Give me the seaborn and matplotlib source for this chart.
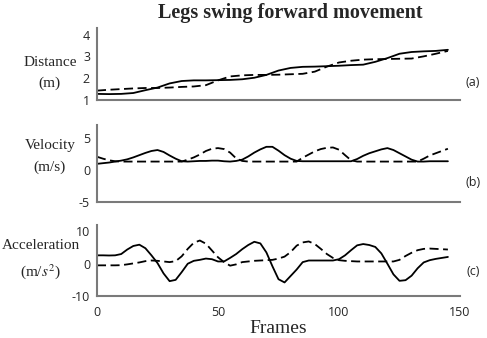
import numpy as np
import pandas as pd
import matplotlib
matplotlib.use("Agg")
import matplotlib.pyplot as plt
import seaborn as sns

##### DATA #####
## distance is smooth, sampled every 5 frames
frames_a = list(range(0, 150, 5))
dist_solid = [1.28, 1.27, 1.28, 1.32, 1.45, 1.57, 1.76, 1.87, 1.90, 1.90,
              1.91, 1.92, 1.95, 2.02, 2.15, 2.35, 2.47, 2.52, 2.53, 2.55,
              2.57, 2.60, 2.62, 2.75, 2.92, 3.12, 3.20, 3.23, 3.25, 3.30]
dist_dash = [1.43, 1.47, 1.50, 1.53, 1.55, 1.55, 1.57, 1.60, 1.62, 1.68,
             1.90, 2.08, 2.13, 2.15, 2.15, 2.16, 2.18, 2.20, 2.30, 2.53,
             2.72, 2.80, 2.85, 2.87, 2.88, 2.89, 2.90, 3.00, 3.12, 3.25]

## velocity / acceleration sampled every 2.5 frames
frames_b = [i * 2.5 for i in range(59)]
vel_solid = [0.95, 1.05, 1.15, 1.3, 1.45, 1.65, 1.95, 2.3, 2.65, 2.95,
             3.1, 2.8, 2.25, 1.75, 1.35, 1.3, 1.35, 1.4, 1.4, 1.45,
             1.45, 1.35, 1.3, 1.4, 1.6, 2.1, 2.7, 3.2, 3.6, 3.6,
             3.0, 2.3, 1.75, 1.4, 1.35, 1.35, 1.35, 1.35, 1.35, 1.35,
             1.35, 1.35, 1.35, 1.7, 2.2, 2.6, 2.9, 3.2, 3.4, 3.1,
             2.6, 2.1, 1.6, 1.3, 1.3, 1.35, 1.35, 1.35, 1.35]
vel_dash = [2.05, 1.75, 1.5, 1.35, 1.3, 1.3, 1.3, 1.3, 1.3, 1.3,
            1.3, 1.3, 1.3, 1.3, 1.3, 1.6, 1.95, 2.4, 2.95, 3.3,
            3.4, 3.25, 2.7, 1.8, 1.4, 1.3, 1.3, 1.3, 1.3, 1.3,
            1.3, 1.3, 1.3, 1.3, 1.9, 2.4, 2.9, 3.25, 3.45, 3.5,
            3.15, 2.3, 1.5, 1.3, 1.3, 1.3, 1.3, 1.3, 1.3, 1.3,
            1.3, 1.3, 1.3, 1.3, 1.75, 2.25, 2.6, 2.95, 3.3]

acc_solid = [2.6, 2.6, 2.55, 2.6, 3.0, 4.4, 5.5, 5.9, 4.8, 2.6,
             0.2, -3.0, -5.4, -5.0, -2.6, 0.0, 0.9, 1.2, 1.6, 1.4,
             0.7, 0.7, 1.8, 3.0, 4.5, 5.8, 6.8, 6.3, 3.5, -0.8,
             -4.8, -5.8, -3.8, -1.8, 0.5, 1.0, 1.0, 1.0, 1.0, 1.0,
             1.4, 2.6, 4.2, 5.7, 6.1, 5.8, 5.2, 3.2, 0.0, -3.3,
             -5.3, -5.1, -3.7, -1.4, 0.4, 1.1, 1.5, 1.8, 2.1]
acc_dash = [-0.5, -0.5, -0.5, -0.5, -0.45, -0.2, 0.1, 0.4, 0.8, 1.0,
            0.9, 0.7, 0.5, 0.8, 2.3, 4.6, 6.5, 7.2, 6.2, 4.1,
            2.0, 0.5, -0.6, -0.2, 0.5, 0.7, 0.9, 1.0, 1.1, 1.2,
            1.6, 2.2, 3.6, 5.6, 6.6, 6.9, 6.1, 4.6, 3.0, 1.8,
            1.1, 0.9, 0.8, 0.7, 0.7, 0.7, 0.7, 0.7, 0.7, 0.7,
            1.2, 2.4, 3.4, 4.2, 4.6, 4.7, 4.6, 4.5, 4.4]

x_ticks = [0, 50, 100, 150]

##### PLOT #####
sns.set_style("white")
plt.rcParams['font.family'] = ['Open Sans', 'DejaVu Sans']
plt.rcParams['mathtext.fontset'] = 'stix'
plt.rcParams['axes.unicode_minus'] = False

fig = plt.figure(figsize=(4.87, 3.38), dpi=100)

W, H = 487, 338
def box(l, t, r, b):
    return [l / W, 1 - b / H, (r - l) / W, (b - t) / H]

panels = [
    dict(pos=box(97, 28, 460, 100), x=frames_a, s=dist_solid, d=dist_dash, ylim=(1, 4.3),
         yticks=[1, 2, 3, 4], ylabel="Distance\n(m)", lab=(-0.13, 0.37), tag="(a)", tagy=0.25),
    dict(pos=box(97, 125, 460, 202), x=frames_b, s=vel_solid, d=vel_dash, ylim=(-5, 7),
         yticks=[-5, 0, 5], ylabel="Velocity\n(m/s)", lab=(-0.13, 0.59), tag="(b)", tagy=0.25),
    dict(pos=box(97, 225, 460, 296), x=frames_b, s=acc_solid, d=acc_dash, ylim=(-10, 12),
         yticks=[-10, 0, 10], ylabel="Acceleration\n(m/$s^2$)", lab=(-0.155, 0.51), tag="(c)", tagy=0.34),
]

for i, p in enumerate(panels):
    ax = fig.add_axes(p['pos'])
    df = pd.DataFrame({'frame': p['x'], 'solid': p['s'], 'dash': p['d']})
    sns.lineplot(x='frame', y='solid', data=df, ax=ax, color='black', lw=1.3)
    sns.lineplot(x='frame', y='dash', data=df, ax=ax, color='black', lw=1.3,
                 linestyle=(0, (5, 2.5)))
    ax.set_xlim(0, 150)
    ax.set_ylim(*p['ylim'])
    ax.set_yticks(p['yticks'])
    ax.tick_params(length=0, labelsize=9, pad=5)
    for side in ['top', 'right']:
        ax.spines[side].set_visible(False)
    for side in ['left', 'bottom']:
        ax.spines[side].set_color('#7a7a7a')
        ax.spines[side].set_linewidth(1.5)
    ax.set_ylabel(p['ylabel'], rotation=0, ha='center', va='center',
                  family='Liberation Serif', fontsize=11, linespacing=1.75)
    ax.yaxis.set_label_coords(*p['lab'])
    ax.text(1.036, p['tagy'], p['tag'], transform=ax.transAxes, ha='center',
            va='center', fontsize=9)
    if i < 2:
        ax.set_xticks([])
        ax.set_xlabel("")
    else:
        ax.set_xticks(x_ticks)
        ax.tick_params(axis='x', pad=7)
        ax.set_xlabel("Frames", family='Liberation Serif', fontsize=14, labelpad=1)

fig.text(290 / W, 1 - 13 / H, "Legs swing forward movement", ha='center', va='center',
         family='Liberation Serif', fontweight='bold', fontsize=14.5)

fig.savefig("out.png", dpi=100)
